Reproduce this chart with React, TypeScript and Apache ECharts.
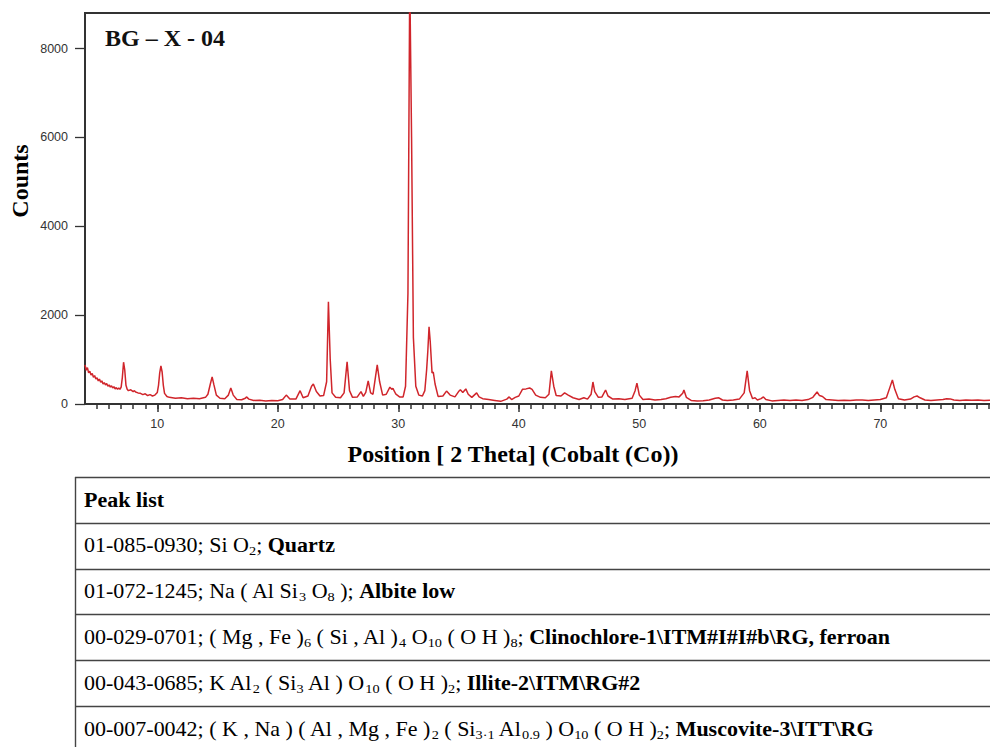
import React, { useEffect, useRef } from "react";
import * as echarts from "echarts";

// 2-Theta positions (degrees, Co) and counts
const THETA = [
  4.0, 4.1, 4.2, 4.3, 4.4, 4.5, 4.6, 4.7, 4.8, 4.9, 5.0, 5.1, 5.2, 5.3, 5.4, 5.5, 5.6, 5.7, 5.8, 5.9,
  6.0, 6.1, 6.2, 6.3, 6.4, 6.5, 6.6, 6.7, 6.8, 6.9, 7.0, 7.1, 7.2, 7.3, 7.4, 7.5, 7.6, 7.8, 8.0, 8.1,
  8.2, 8.4, 8.6, 8.8, 9.0, 9.2, 9.4, 9.6, 9.8, 10.0, 10.1, 10.2, 10.3, 10.4, 10.5, 10.6, 10.8, 11.0, 11.5, 12.0,
  12.5, 13.0, 13.5, 14.0, 14.2, 14.4, 14.55, 14.7, 14.9, 15.2, 15.6, 15.9, 16.1, 16.3, 16.6, 17.0, 17.3, 17.4, 17.6, 18.0,
  18.5, 19.0, 19.5, 20.0, 20.4, 20.7, 21.0, 21.5, 21.85, 22.1, 22.5, 22.8, 22.95, 23.2, 23.5, 23.8, 24.05, 24.2, 24.35, 24.5,
  24.8, 25.2, 25.5, 25.75, 25.95, 26.2, 26.6, 26.9, 27.1, 27.3, 27.5, 27.7, 27.9, 28.1, 28.25, 28.45, 28.7, 29.0, 29.3, 29.45,
  29.55, 29.8, 30.1, 30.4, 30.6, 30.8, 30.95, 31.1, 31.25, 31.45, 31.7, 32.0, 32.2, 32.35, 32.45, 32.55, 32.65, 32.8, 32.9, 33.05,
  33.3, 33.7, 34.0, 34.3, 34.7, 35.0, 35.15, 35.35, 35.6, 35.8, 36.1, 36.5, 36.7, 37.0, 37.5, 38.0, 38.5, 39.0, 39.2, 39.4,
  39.7, 40.0, 40.3, 40.6, 40.9, 41.1, 41.4, 41.8, 42.2, 42.5, 42.7, 42.9, 43.1, 43.5, 43.8, 44.1, 44.5, 45.0, 45.4, 45.7,
  46.0, 46.15, 46.3, 46.6, 46.9, 47.2, 47.4, 47.8, 48.3, 48.8, 49.4, 49.65, 49.8, 50.0, 50.3, 50.8, 51.3, 51.8, 52.2, 52.6,
  53.0, 53.3, 53.6, 53.7, 53.9, 54.3, 54.8, 55.3, 55.8, 56.3, 56.6, 56.9, 57.3, 57.8, 58.3, 58.7, 58.95, 59.15, 59.4, 59.6,
  59.8, 60.1, 60.3, 60.5, 61.0, 61.5, 62.0, 62.5, 63.0, 63.5, 64.0, 64.4, 64.75, 64.95, 65.2, 65.5, 66.0, 66.5, 67.0, 67.5,
  68.0, 68.5, 69.0, 69.5, 70.0, 70.5, 70.8, 71.0, 71.2, 71.5, 72.0, 72.5, 72.8, 73.05, 73.3, 73.7, 74.2, 74.7, 75.2, 75.5,
  75.8, 76.1, 76.6, 77.1, 77.6, 78.1, 78.6, 79.1,
];
const COUNTS = [
  880, 760, 820, 700, 740, 650, 690, 600, 640, 560, 590, 520, 560, 490, 520, 450, 480, 430, 460, 400,
  430, 380, 410, 360, 390, 340, 370, 330, 360, 330, 380, 600, 940, 760, 420, 330, 300, 320, 280, 300,
  270, 250, 240, 210, 230, 190, 210, 180, 200, 260, 420, 700, 860, 720, 420, 240, 170, 150, 130, 140,
  120, 130, 120, 150, 220, 450, 610, 430, 200, 130, 120, 200, 360, 200, 100, 95, 130, 160, 110, 80,
  85, 70, 80, 75, 100, 200, 110, 110, 300, 140, 180, 400, 450, 280, 180, 190, 500, 2300, 1000, 250,
  150, 140, 250, 950, 300, 150, 160, 280, 170, 260, 520, 250, 220, 600, 880, 500, 200, 220, 380, 330,
  350, 220, 160, 160, 400, 2500, 9600, 6000, 1500, 400, 200, 180, 300, 770, 1200, 1740, 1400, 700, 720, 450,
  170, 180, 290, 200, 160, 280, 320, 260, 340, 220, 150, 250, 160, 120, 100, 80, 60, 110, 160, 100,
  150, 180, 330, 340, 360, 330, 200, 150, 140, 220, 745, 400, 190, 180, 250, 200, 140, 100, 140, 110,
  220, 495, 280, 150, 160, 315, 180, 110, 120, 100, 130, 300, 470, 200, 100, 110, 90, 100, 120, 150,
  170, 160, 240, 315, 150, 80, 70, 75, 90, 130, 140, 90, 80, 90, 110, 250, 745, 300, 120, 140,
  90, 120, 160, 100, 70, 80, 90, 80, 90, 80, 100, 150, 270, 190, 170, 100, 90, 80, 85, 80,
  90, 90, 80, 90, 100, 140, 380, 540, 330, 120, 90, 110, 160, 180, 140, 90, 80, 90, 100, 120,
  115, 90, 80, 90, 85, 90, 80, 85,
];

const Y_TICKS = [0, 2000, 4000, 6000, 8000];
const X_MAJOR_TICKS = [10, 20, 30, 40, 50, 60, 70];
const X_MINOR_TICKS = [
  5, 6, 7, 8, 9, 10, 11, 12, 13, 14, 15, 16, 17, 18, 19, 20, 21, 22, 23, 24, 25, 26, 27, 28, 29, 30,
  31, 32, 33, 34, 35, 36, 37, 38, 39, 40, 41, 42, 43, 44, 45, 46, 47, 48, 49, 50, 51, 52, 53, 54, 55,
  56, 57, 58, 59, 60, 61, 62, 63, 64, 65, 66, 67, 68, 69, 70, 71, 72, 73, 74, 75, 76, 77, 78, 79,
];

const CHART_TITLE = "BG – X - 04";
const Y_NAME = "Counts";
const X_NAME = "Position [ 2 Theta] (Cobalt (Co))";

// Peak list rows (rich text: n = normal, s = subscript, b = bold)
const TABLE_ROWS = [
  "{b|Peak list}",
  "{n|01-085-0930; Si O}{s|2}{n|; }{b|Quartz}",
  "{n|01-072-1245; Na ( Al Si}{s|3}{n| O}{s|8}{n| ); }{b|Albite low}",
  "{n|00-029-0701; ( Mg , Fe )}{s|6}{n| ( Si , Al )}{s|4}{n| O}{s|10}{n| ( O H )}{s|8}{n|; }{b|Clinochlore-1\\ITM#I#I#b\\RG, ferroan}",
  "{n|00-043-0685; K Al}{s|2}{n| ( Si}{s|3}{n| Al ) O}{s|10}{n| ( O H )}{s|2}{n|; }{b|Illite-2\\ITM\\RG#2}",
  "{n|00-007-0042; ( K , Na ) ( Al , Mg , Fe )}{s|2}{n| ( Si}{s|3·1}{n| Al}{s|0.9}{n| ) O}{s|10}{n| ( O H )}{s|2}{n|; }{b|Muscovite-3\\ITT\\RG}",
];

export default function App() {
  const ref = useRef<HTMLDivElement>(null);

  useEffect(() => {
    if (!ref.current) return;
    const chart = echarts.init(ref.current, null, { renderer: "svg" });

    const data = THETA.map((t, i) => [t, COUNTS[i]]);

    const serif = '"Liberation Serif", "Times New Roman", serif';
    const sans = '"Liberation Sans", Arial, sans-serif';

    const tableTop = 477;
    const rowH = 45.8;
    const graphics: any[] = [];

    // top frame line of the plot
    graphics.push({
      type: "line",
      shape: { x1: 84, y1: 13, x2: 990, y2: 13 },
      style: { stroke: "#333", lineWidth: 2 },
    });

    // title and axis names
    graphics.push({
      type: "text",
      x: 105,
      y: 38,
      style: {
        text: CHART_TITLE,
        font: `bold 24px ${serif}`,
        fill: "#111",
        align: "left",
        verticalAlign: "middle",
        textAlign: "left",
        textVerticalAlign: "middle",
      },
    });
    graphics.push({
      type: "text",
      x: 20,
      y: 181,
      rotation: Math.PI / 2,
      style: {
        text: Y_NAME,
        font: `bold 24px ${serif}`,
        fill: "#000",
        align: "center",
        verticalAlign: "middle",
        textAlign: "center",
        textVerticalAlign: "middle",
      },
    });
    graphics.push({
      type: "text",
      x: 513,
      y: 454,
      style: {
        text: X_NAME,
        font: `bold 24px ${serif}`,
        fill: "#000",
        align: "center",
        verticalAlign: "middle",
        textAlign: "center",
        textVerticalAlign: "middle",
      },
    });

    // table grid lines
    for (let i = 0; i <= TABLE_ROWS.length; i++) {
      const y = Math.round(tableTop + i * rowH) + 0.5;
      graphics.push({
        type: "line",
        shape: { x1: 75, y1: y, x2: 990, y2: y },
        style: { stroke: "#444", lineWidth: 1.4 },
      });
    }
    graphics.push({
      type: "line",
      shape: { x1: 75.5, y1: tableTop, x2: 75.5, y2: 747 },
      style: { stroke: "#444", lineWidth: 1.4 },
    });

    // table texts
    TABLE_ROWS.forEach((row, i) => {
      graphics.push({
        type: "text",
        x: 84,
        y: tableTop + i * rowH + rowH / 2,
        scaleX: 1.1,
        style: {
          text: row,
          fill: "#000",
          align: "left",
          verticalAlign: "middle",
          textAlign: "left",
          textVerticalAlign: "middle",
          rich: {
            n: { fontFamily: serif, fontSize: 20, lineHeight: 24, fill: "#000" },
            b: { fontFamily: serif, fontSize: 20, fontWeight: "bold", lineHeight: 24, fill: "#000" },
            s: { fontFamily: serif, fontSize: 13, lineHeight: 11, verticalAlign: "bottom", fill: "#000" },
          },
        },
      });
    });

    chart.setOption({
      animation: false,
      backgroundColor: "#fff",
      grid: {
        left: 85,
        top: 13,
        right: 0,
        bottom: 343,
        show: false,
      },
      xAxis: [
        {
          type: "value",
          min: 4,
          max: 79.1,
          position: "bottom",
          axisLine: { show: true, lineStyle: { color: "#333", width: 2 } },
          axisTick: {
            show: true,
            customValues: X_MINOR_TICKS,
            length: 5,
            lineStyle: { color: "#333", width: 1.5 },
          },
          axisLabel: { show: false },
          splitLine: { show: false },
        },
        {
          type: "value",
          min: 4,
          max: 79.1,
          position: "bottom",
          axisLine: { show: false },
          axisTick: {
            show: true,
            customValues: X_MAJOR_TICKS,
            length: 8,
            lineStyle: { color: "#333", width: 1.5 },
          },
          axisLabel: {
            show: true,
            customValues: X_MAJOR_TICKS,
            margin: 13,
            fontSize: 12.5,
            fontFamily: sans,
            color: "#333",
          },
          splitLine: { show: false },
        },
      ],
      yAxis: {
        type: "value",
        min: 0,
        max: 8800,
        axisLine: { show: true, lineStyle: { color: "#333", width: 2 } },
        axisTick: {
          show: true,
          customValues: Y_TICKS,
          length: 10,
          lineStyle: { color: "#333", width: 1.3 },
        },
        axisLabel: {
          show: true,
          customValues: Y_TICKS,
          margin: 17,
          fontSize: 12.5,
          fontFamily: sans,
          color: "#333",
          formatter: (v: number) => String(v),
        },
        splitLine: { show: false },
      },
      series: [
        {
          type: "line",
          xAxisIndex: 0,
          yAxisIndex: 0,
          data,
          showSymbol: false,
          symbol: "none",
          clip: true,
          lineStyle: { color: "#d0252b", width: 1.5 },
        },
      ],
      graphic: graphics,
    });

    return () => chart.dispose();
  }, []);

  return (
    <div
      ref={ref}
      style={{ position: "absolute", left: 0, top: 0, width: 990, height: 747, background: "#fff" }}
    />
  );
}
